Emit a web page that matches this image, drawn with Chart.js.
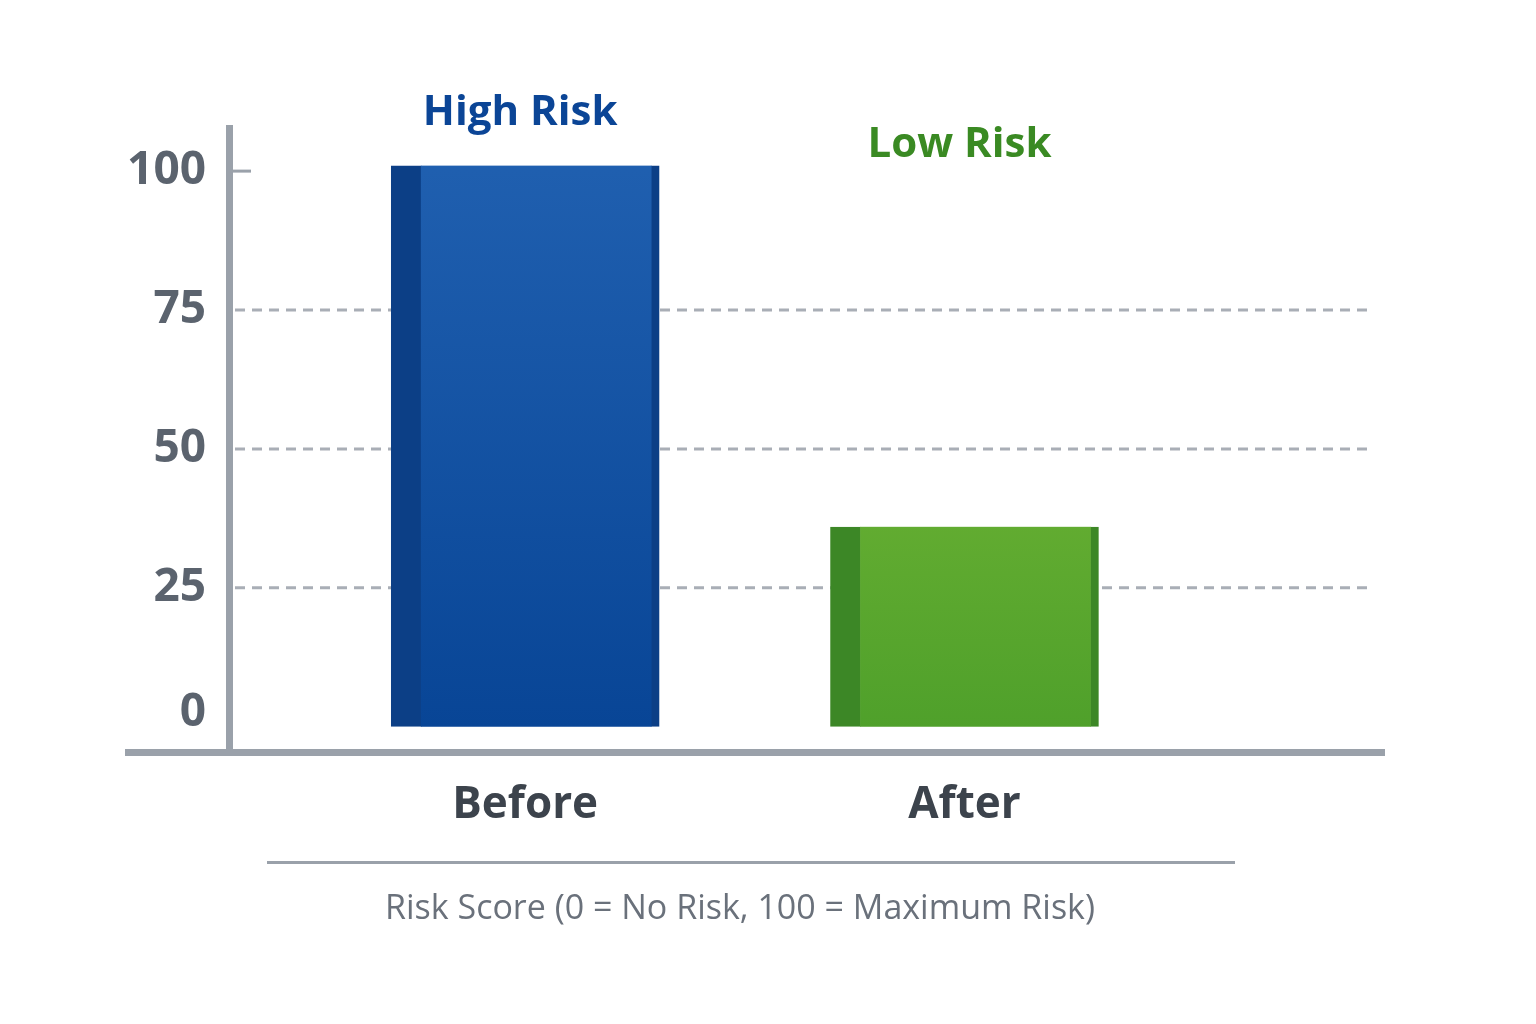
<!DOCTYPE html>
<html><head><meta charset="utf-8">
<script src="https://cdn.jsdelivr.net/npm/chart.js@4"></script>
<style>html,body{margin:0;padding:0;background:#fff}#w{width:1536px;height:1024px}</style>
</head><body><div id="w"><canvas id="c"></canvas></div>
<script>
const categories = ['Before', 'After'];
const riskScores = [101, 36];
const riskLabels = ['High Risk', 'Low Risk'];
const yTicks = [0, 25, 50, 75, 100];
const axisTitle = 'Risk Score (0 = No Risk, 100 = Maximum Risk)';

const labelColors = ['#0b4596', '#3a8a23'];
const font = '"Open Sans", "Noto Sans", sans-serif';

const deco = {
  id: 'deco',
  beforeDatasetsDraw(ch) {
    const {ctx, chartArea: a, scales: {x, y}} = ch;
    ctx.save();
    ctx.strokeStyle = '#a9aeb6'; ctx.lineWidth = 3; ctx.setLineDash([10, 7]);
    [25, 50, 75].forEach(v => {
      const py = y.getPixelForValue(v);
      ctx.beginPath(); ctx.moveTo(a.left + 6, py); ctx.lineTo(1370, py); ctx.stroke();
    });
    ctx.restore();
  },
  afterDatasetsDraw(ch) {
    const {ctx, chartArea: a, scales: {x, y}} = ch;
    ctx.save();
    ctx.fillStyle = '#9aa1aa';
    ctx.fillRect(a.left - 3, a.top, 7, a.bottom - a.top + 2);
    ctx.fillRect(125, a.bottom - 1, 1260, 7);
    ctx.fillRect(a.left, y.getPixelForValue(100) - 1.5, 22, 3);
    ctx.fillStyle = '#5b636e'; ctx.textAlign = 'right'; ctx.textBaseline = 'middle';
    ctx.font = 'bold 46px ' + font;
    yTicks.forEach(v => {
      let py = y.getPixelForValue(v);
      if (v === 0) py -= 14;
      ctx.fillText(String(v), 206, py);
    });
    ctx.textAlign = 'center';
    categories.forEach((c, i) => {
      const px = x.getPixelForValue(i + 1);
      ctx.fillStyle = '#3c434c'; ctx.font = 'bold 44px ' + font;
      ctx.fillText(c, px, 805);
      ctx.fillStyle = labelColors[i]; ctx.font = 'bold 42px ' + font;
      const topPx = y.getPixelForValue(riskScores[i]);
      ctx.fillText(riskLabels[i], px - 5, i === 0 ? topPx - 53 : topPx - 382);
    });
    ctx.fillStyle = '#9aa1aa'; ctx.fillRect(267, 861, 968, 3);
    ctx.fillStyle = '#6a717b'; ctx.font = '34px ' + font;
    ctx.fillText(axisTitle, 740, 909);
    ctx.restore();
  }
};

function grad(ctx, area, c1, c2) {
  const g = ctx.createLinearGradient(0, area.top, 0, area.bottom);
  g.addColorStop(0, c1); g.addColorStop(1, c2); return g;
}

new Chart(document.getElementById('c'), {
  type: 'bar',
  data: {
    datasets: [{
      data: categories.map((c, i) => ({x: i + 1, y: riskScores[i]})),
      backgroundColor: (cx) => {
        const {ctx, chartArea} = cx.chart;
        if (!chartArea) return '#1a57a8';
        return cx.dataIndex === 0 ? grad(ctx, chartArea, '#2161b1', '#074495') : grad(ctx, chartArea, '#86c23c', '#4d9f2a');
      },
      borderColor: ['#0c3f86', '#3c8726'],
      borderWidth: {left: 30, right: 8, top: 0, bottom: 0},
      borderSkipped: false,
      barThickness: 268
    }]
  },
  options: {
    responsive: true, maintainAspectRatio: false, animation: false,
    layout: {padding: {left: 229, right: 151, top: 125, bottom: 274}},
    plugins: {legend: {display: false}, tooltip: {enabled: false}},
    scales: {
      x: {type: 'linear', min: 0.545, max: 2.738, display: false},
      y: {min: -4.2, max: 108.3, display: false,
          afterBuildTicks: s => { s.ticks = yTicks.map(v => ({value: v})); }}
    }
  },
  plugins: [deco]
});
</script></body></html>
